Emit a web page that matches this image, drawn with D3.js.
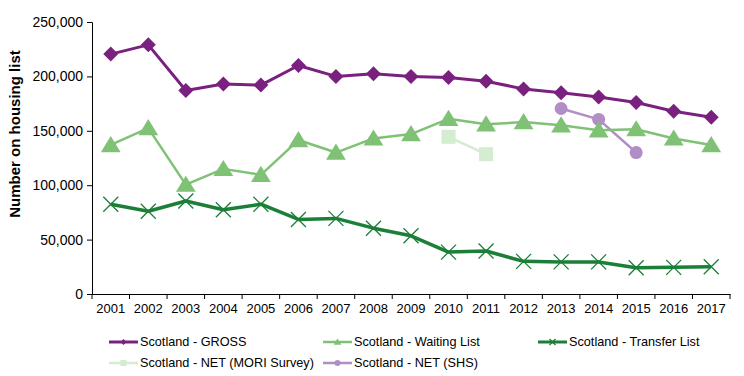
<!DOCTYPE html>
<html>
<head>
<meta charset="utf-8">
<script src="https://cdn.jsdelivr.net/npm/d3@7"></script>
<style>
  body { margin: 0; background: #fff; }
  svg text { font-family: "Liberation Sans", Arial, sans-serif; fill: #000; }
</style>
</head>
<body>
<div id="chart"></div>
<script>
// Chart data
const years = ["2001", "2002", "2003", "2004", "2005", "2006", "2007", "2008", "2009",
    "2010", "2011", "2012", "2013", "2014", "2015", "2016", "2017"];
const gross = [220500, 229000, 187000, 193000, 192000, 210000, 200000, 202500, 200000,
    199000, 195500, 188500, 185000, 181000, 176000, 168000, 162500];
const waitingList = [137000, 152500, 100500, 115000, 109500, 141500, 130000, 143000, 147000,
    161000, 156000, 158000, 155000, 150500, 151500, 143000, 137000];
const transferList = [82500, 76000, 85500, 77500, 82500, 68500, 69500, 60500, 53500,
    38500, 39500, 30000, 29500, 29500, 24200, 24500, 25000];
const moriYears = ["2010", "2011"];
const mori = [144500, 128500];
const shsYears = ["2013", "2014", "2015"];
const shs = [170500, 160500, 130000];
const yTicks = [0, 50000, 100000, 150000, 200000, 250000];

const W = 744, H = 376;
const margin = { top: 22, right: 14, bottom: 82, left: 92 };

const svg = d3.select("#chart").append("svg")
    .attr("width", W)
    .attr("height", H);

const x = d3.scaleBand().domain(years).range([margin.left, W - margin.right]);
const y = d3.scaleLinear().domain([0, 250000]).range([H - margin.bottom, margin.top]);
const cx = d => x(d) + x.bandwidth() / 2;

// y axis
const yAxis = svg.append("g")
    .attr("transform", `translate(${margin.left},0)`)
    .call(d3.axisLeft(y).tickValues(yTicks).tickSize(5).tickPadding(4)
        .tickFormat(d3.format(",")));
yAxis.selectAll("text").style("font-size", "14px");

// x axis, ticks at category boundaries
const xAxis = svg.append("g")
    .attr("transform", `translate(0,${y(0)})`)
    .call(d3.axisBottom(x).tickSize(0).tickPadding(10));
xAxis.selectAll("text").style("font-size", "13px");
xAxis.selectAll(".tick").append("line")
    .attr("x1", -x.bandwidth() / 2).attr("x2", -x.bandwidth() / 2)
    .attr("y1", 0).attr("y2", 5).attr("stroke", "#000");
xAxis.append("line")
    .attr("x1", W - margin.right).attr("x2", W - margin.right)
    .attr("y1", 0).attr("y2", 5).attr("stroke", "#000");
svg.selectAll(".domain").attr("stroke", "#000");

// y title
svg.append("text")
    .attr("transform", "translate(20,134) rotate(-90)")
    .attr("text-anchor", "middle")
    .style("font-size", "15px")
    .style("font-weight", "bold")
    .text("Number on housing list");

// marker shapes
function marker(g, kind, color, s) {
    if (kind === "diamond") {
        g.append("path").attr("d", `M0,${-s}L${s},0L0,${s}L${-s},0Z`).attr("fill", color);
    } else if (kind === "triangle") {
        g.append("path").attr("d", `M0,${-s}L${s * 1.1},${s * 0.8}L${-s * 1.1},${s * 0.8}Z`).attr("fill", color);
    } else if (kind === "square") {
        g.append("rect").attr("x", -s).attr("y", -s).attr("width", 2 * s).attr("height", 2 * s).attr("fill", color);
    } else if (kind === "circle") {
        g.append("circle").attr("r", s).attr("fill", color);
    } else if (kind === "x") {
        g.append("path").attr("d", `M${-s},${-s}L${s},${s}M${-s},${s}L${s},${-s}`)
            .attr("stroke", color).attr("stroke-width", 1.3).attr("fill", "none");
    }
}

const series = [
    { name: "Scotland - GROSS", cats: years, values: gross, color: "#7A2180", width: 3, kind: "diamond", size: 7.5 },
    { name: "Scotland - Waiting List", cats: years, values: waitingList, color: "#7FC175", width: 2.5, kind: "triangle", size: 9 },
    { name: "Scotland - Transfer List", cats: years, values: transferList, color: "#1B7F38", width: 3.5, kind: "x", size: 7.5 },
    { name: "Scotland - NET (MORI Survey)", cats: moriYears, values: mori, color: "#D4ECD0", width: 2.5, kind: "square", size: 7 },
    { name: "Scotland - NET (SHS)", cats: shsYears, values: shs, color: "#B18EC6", width: 2.5, kind: "circle", size: 6.5 }
];

const line = d3.line().x(d => cx(d[0])).y(d => y(d[1]));

// draw from back to front so GROSS sits on top
[...series].reverse().forEach(s => {
    const pts = s.cats.map((c, i) => [c, s.values[i]]);
    svg.append("path")
        .datum(pts)
        .attr("d", line)
        .attr("fill", "none")
        .attr("stroke", s.color)
        .attr("stroke-width", s.width)
        .attr("stroke-linejoin", "round");
    pts.forEach(p => {
        const g = svg.append("g").attr("transform", `translate(${cx(p[0])},${y(p[1])})`);
        marker(g, s.kind, s.color, s.size);
    });
});

// legend
const legendPos = [[109, 342], [323, 342], [538, 342], [109, 363], [323, 363]];
series.forEach((s, i) => {
    const [lx, ly] = legendPos[i];
    const g = svg.append("g").attr("transform", `translate(${lx},${ly})`);
    g.append("line").attr("x1", 0).attr("x2", 29).attr("y1", 0).attr("y2", 0)
        .attr("stroke", s.color).attr("stroke-width", Math.min(s.width, 3));
    const m = g.append("g").attr("transform", "translate(14.5,0)");
    marker(m, s.kind, s.color, s.kind === "triangle" ? 3.5 : 3);
    g.append("text").attr("x", 31).attr("y", 0).attr("dy", "0.35em")
        .style("font-size", "12.7px").text(s.name);
});
</script>
</body>
</html>
